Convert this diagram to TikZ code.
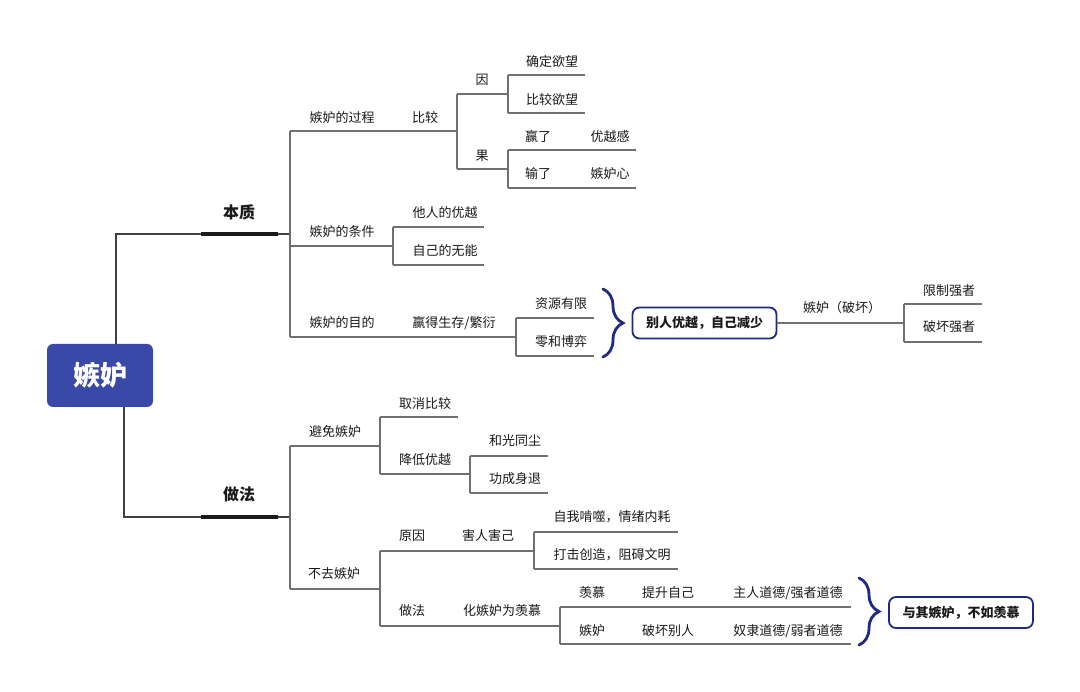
\documentclass[tikz,border=0pt]{standalone}
\usepackage{fontspec}
\newfontfamily\cjk{Noto Sans CJK SC}
\usetikzlibrary{decorations.pathreplacing}
\definecolor{rootblue}{HTML}{3A49A8}
\definecolor{navy}{HTML}{1E2A84}
\definecolor{linegray}{HTML}{707070}
\definecolor{txt}{HTML}{1A1A1A}
\tikzset{
 lbl/.style={font=\cjk\fontsize{13}{15}\selectfont, text=txt, inner sep=0pt},
 mainlbl/.style={font=\cjk\bfseries\fontsize{16}{18}\selectfont, text=txt, inner sep=0pt},
 rootnode/.style={fill=rootblue, rounded corners=6pt, minimum width=106pt, minimum height=63pt, text=white, inner sep=0pt, font=\cjk\bfseries\fontsize{27}{30}\selectfont},
 sumbox/.style={draw=navy, line width=1.8pt, rounded corners=7pt, minimum width=144pt, minimum height=31pt, inner sep=0pt, font=\cjk\bfseries\fontsize{13}{15}\selectfont, text=txt},
 barnode/.style={fill=txt, minimum width=77pt, minimum height=4pt, inner sep=0pt},
 conn/.style={draw=linegray, line width=1.2pt},
 rootconn/.style={draw=black!75, line width=1.2pt},
 bracestyle/.style={draw=navy, line width=2.8pt, line cap=round, decorate, decoration={brace, amplitude=20pt}}
}
\begin{document}
\begin{tikzpicture}[x=1pt,y=-1pt]
\fill[white] (0,0) rectangle (1080,692);
\useasboundingbox (0,0) rectangle (1080,692);

% root
\node[rootnode] (root) at (100,375.5) {嫉妒};

% ---------- coordinates ----------
\coordinate (r1) at (116,234);
\coordinate (r2) at (124,517);
\coordinate (A0) at (290,234);
\coordinate (A1) at (290,131); \coordinate (A2) at (290,246); \coordinate (A3) at (290,337);
\coordinate (B1) at (457,131); \coordinate (B1u) at (457,94); \coordinate (B1d) at (457,169);
\coordinate (C1) at (508,94); \coordinate (C1u) at (508,75); \coordinate (C1d) at (508,113);
\coordinate (D1) at (585,75); \coordinate (D2) at (585,113);
\coordinate (C2) at (508,169); \coordinate (C2u) at (508,150); \coordinate (C2d) at (508,188);
\coordinate (D3) at (636,150); \coordinate (D4) at (636,188);
\coordinate (B2) at (393,246); \coordinate (B2u) at (393,227); \coordinate (B2d) at (393,265);
\coordinate (E1) at (484,227); \coordinate (E2) at (484,265);
\coordinate (B3) at (516,337); \coordinate (B3u) at (516,318); \coordinate (B3d) at (516,356);
\coordinate (F1) at (594,318); \coordinate (F2) at (594,356);
\coordinate (G0u) at (904,304); \coordinate (G0d) at (904,342);
\coordinate (H1) at (982,304); \coordinate (H2) at (982,342);
\coordinate (K1) at (603,289); \coordinate (K2) at (603,357);

\coordinate (S0) at (290,517);
\coordinate (S1) at (290,446); \coordinate (S2) at (290,589);
\coordinate (U1) at (380,446); \coordinate (U1u) at (380,417); \coordinate (U1d) at (380,474);
\coordinate (V1) at (458,417); \coordinate (V2) at (470,474);
\coordinate (V2u) at (470,456); \coordinate (V2d) at (470,493);
\coordinate (W1) at (548,456); \coordinate (W2) at (548,493);
\coordinate (U2) at (380,589); \coordinate (U2u) at (380,551); \coordinate (U2d) at (380,626);
\coordinate (X1) at (534,551); \coordinate (X1u) at (534,532); \coordinate (X1d) at (534,569);
\coordinate (Z1) at (678,532); \coordinate (Z2) at (678,569);
\coordinate (X2) at (560,626); \coordinate (X2u) at (560,607); \coordinate (X2d) at (560,644);
\coordinate (Z3) at (851,607); \coordinate (Z4) at (851,644);
\coordinate (L1) at (859,578); \coordinate (L2) at (859,645);

% ---------- main branches ----------
\node[barnode] (barA) at (239.5,234) {};
\node[mainlbl] (bz) at (239,212) {本质};
\node[barnode] (barB) at (239.5,517) {};
\node[mainlbl] (zf) at (239,494) {做法};

\draw[rootconn] (root.north -| r1) -- (r1) -- (barA.west);
\draw[rootconn] (barA.east) -- (A0);
\draw[rootconn] (root.south -| r2) -- (r2) -- (barB.west);
\draw[rootconn] (barB.east) -- (S0);

% ---------- top section ----------
\draw[conn] (A1) -- (A3);
\draw[conn] (A1) -- (B1);
\draw[conn] (B1u) -- (B1d);
\draw[conn] (B1u) -- (C1);
\draw[conn] (B1d) -- (C2);
\draw[conn] (C1u) -- (C1d);
\draw[conn] (C1u) -- (D1);
\draw[conn] (C1d) -- (D2);
\draw[conn] (C2u) -- (C2d);
\draw[conn] (C2u) -- (D3);
\draw[conn] (C2d) -- (D4);
\draw[conn] (A2) -- (B2);
\draw[conn] (B2u) -- (B2d);
\draw[conn] (B2u) -- (E1);
\draw[conn] (B2d) -- (E2);
\draw[conn] (A3) -- (B3);
\draw[conn] (B3u) -- (B3d);
\draw[conn] (B3u) -- (F1);
\draw[conn] (B3d) -- (F2);

\node[lbl] (gc) at (342,118) {嫉妒的过程};
\node[lbl] (bj) at (425,118) {比较};
\node[lbl] (yin) at (482,80) {因};
\node[lbl] (guo) at (482,156) {果};
\node[lbl] (qd) at (552,62) {确定欲望};
\node[lbl] (bjyw) at (552,100) {比较欲望};
\node[lbl] (yl) at (538,137) {赢了};
\node[lbl] (yyg) at (610,137) {优越感};
\node[lbl] (sl) at (538,174) {输了};
\node[lbl] (jdx) at (610,174) {嫉妒心};
\node[lbl] (tj) at (342,232) {嫉妒的条件};
\node[lbl] (trdy) at (445,213) {他人的优越};
\node[lbl] (zjdw) at (445,251) {自己的无能};
\node[lbl] (md) at (342,323) {嫉妒的目的};
\node[lbl] (ydsc) at (454,323) {赢得生存/繁衍};
\node[lbl] (zyyx) at (561,304) {资源有限};
\node[lbl] (lhby) at (561,342) {零和博弈};

\draw[bracestyle] (K1) -- (K2);
\node[sumbox] (box1) at (704.5,323) {别人优越，自己减少};
\draw[conn] (box1.east) -- (box1.east -| G0u);
\draw[conn] (G0u) -- (G0d);
\draw[conn] (G0u) -- (H1);
\draw[conn] (G0d) -- (H2);
\node[lbl] (jdph) at (842,308) {嫉妒（破坏）};
\node[lbl] (xzqz) at (949,291) {限制强者};
\node[lbl] (phqz) at (949,327) {破坏强者};

% ---------- bottom section ----------
\draw[conn] (S1) -- (S2);
\draw[conn] (S1) -- (U1);
\draw[conn] (U1u) -- (U1d);
\draw[conn] (U1u) -- (V1);
\draw[conn] (U1d) -- (V2);
\draw[conn] (V2u) -- (V2d);
\draw[conn] (V2u) -- (W1);
\draw[conn] (V2d) -- (W2);
\draw[conn] (S2) -- (U2);
\draw[conn] (U2u) -- (U2d);
\draw[conn] (U2u) -- (X1);
\draw[conn] (X1u) -- (X1d);
\draw[conn] (X1u) -- (Z1);
\draw[conn] (X1d) -- (Z2);
\draw[conn] (U2d) -- (X2);
\draw[conn] (X2u) -- (X2d);
\draw[conn] (X2u) -- (Z3);
\draw[conn] (X2d) -- (Z4);

\node[lbl] (bmjd) at (335,432) {避免嫉妒};
\node[lbl] (qxbj) at (425,404) {取消比较};
\node[lbl] (ddyy) at (425,460) {降低优越};
\node[lbl] (hgtc) at (515,441) {和光同尘};
\node[lbl] (gcst) at (515,479) {功成身退};
\node[lbl] (bqjd) at (334,574) {不去嫉妒};
\node[lbl] (yy) at (412,536) {原因};
\node[lbl] (hrhj) at (488,536) {害人害己};
\node[lbl] (zwks) at (612,517) {自我啃噬，情绪内耗};
\node[lbl] (djcz) at (612,555) {打击创造，阻碍文明};
\node[lbl] (zf2) at (412,611) {做法};
\node[lbl] (hjd) at (502,611) {化嫉妒为羡慕};
\node[lbl] (xm) at (592,593) {羡慕};
\node[lbl] (tszj) at (668,593) {提升自己};
\node[lbl] (zrdd) at (788,593) {主人道德/强者道德};
\node[lbl] (jd2) at (592,631) {嫉妒};
\node[lbl] (phbr) at (668,631) {破坏别人};
\node[lbl] (nldd) at (788,631) {奴隶道德/弱者道德};

\draw[bracestyle] (L1) -- (L2);
\node[sumbox] (box2) at (961,612.5) {与其嫉妒，不如羡慕};
\end{tikzpicture}
\end{document}
